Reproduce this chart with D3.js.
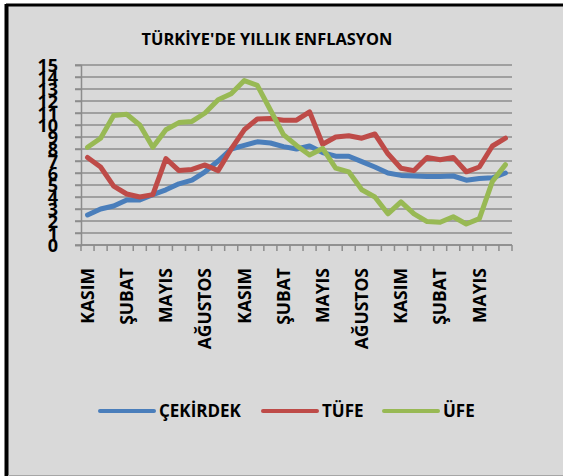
<!DOCTYPE html>
<html>
<head>
<meta charset="utf-8">
<script src="https://cdn.jsdelivr.net/npm/d3@7"></script>
<style>
  body { margin: 0; background: #fff; }
  text { font-family: "Open Sans", sans-serif; font-weight: bold; fill: #000; }
</style>
</head>
<body>
<svg id="chart" width="563" height="476"></svg>
<script>
// monthly labels, starting in November
var months = [
  "KASIM", "ARALIK", "OCAK", "ŞUBAT", "MART", "NİSAN", "MAYIS", "HAZİRAN", "TEMMUZ", "AĞUSTOS", "EYLÜL", "EKİM",
  "KASIM", "ARALIK", "OCAK", "ŞUBAT", "MART", "NİSAN", "MAYIS", "HAZİRAN", "TEMMUZ", "AĞUSTOS", "EYLÜL", "EKİM",
  "KASIM", "ARALIK", "OCAK", "ŞUBAT", "MART", "NİSAN", "MAYIS", "HAZİRAN", "TEMMUZ"
];

var cekirdek = [2.5, 3.0, 3.25, 3.75, 3.75, 4.2, 4.6, 5.1, 5.4, 6.1, 7.0, 8.0, 8.3, 8.6, 8.5, 8.2, 8.0,
  8.25, 7.7, 7.4, 7.4, 6.95, 6.5, 6.0, 5.8, 5.75, 5.7, 5.7, 5.75, 5.4, 5.55, 5.6, 6.0];
var tufe = [7.3, 6.5, 4.9, 4.25, 4.0, 4.2, 7.2, 6.2, 6.3, 6.67, 6.2, 8.0, 9.6, 10.5, 10.55, 10.4, 10.4,
  11.1, 8.4, 9.0, 9.1, 8.9, 9.25, 7.6, 6.4, 6.2, 7.3, 7.1, 7.3, 6.1, 6.5, 8.25, 8.9];
var ufe = [8.14, 8.9, 10.8, 10.9, 10.0, 8.14, 9.6, 10.2, 10.3, 11.0, 12.1, 12.6, 13.7, 13.3, 11.25, 9.2, 8.3,
  7.5, 8.05, 6.4, 6.1, 4.6, 4.0, 2.6, 3.6, 2.6, 1.95, 1.9, 2.35, 1.75, 2.2, 5.3, 6.7];

var seriesNames = ["ÇEKİRDEK", "TÜFE", "ÜFE"];
var seriesColors = ["#4a7ebb", "#be4b48", "#98b954"];
var yTicks = d3.range(0, 16);

var svg = d3.select("#chart");

// chart area background and frame
svg.append("rect")
  .attr("x", 6).attr("y", 5)
  .attr("width", 563).attr("height", 470)
  .attr("fill", "#d9d9d9");
svg.append("line")
  .attr("x1", 6).attr("x2", 563).attr("y1", 5).attr("y2", 5)
  .attr("stroke", "#000").attr("stroke-width", 3);
svg.append("line")
  .attr("x1", 6.5).attr("x2", 6.5).attr("y1", 4).attr("y2", 476)
  .attr("stroke", "#000").attr("stroke-width", 4);
svg.append("line")
  .attr("x1", 8).attr("x2", 563).attr("y1", 475.5).attr("y2", 475.5)
  .attr("stroke", "#a6a6a6").attr("stroke-width", 1);

svg.append("text")
  .attr("x", 267).attr("y", 45)
  .attr("text-anchor", "middle")
  .style("font-size", "16.4px")
  .text("TÜRKİYE'DE YILLIK ENFLASYON");

var x = d3.scaleBand()
  .domain(d3.range(months.length))
  .range([81, 512]);

var y = d3.scaleLinear()
  .domain([0, 15])
  .range([245, 65]);

// horizontal gridlines
svg.append("g")
  .selectAll("line")
  .data(yTicks)
  .enter()
  .append("line")
  .attr("x1", 75).attr("x2", 512)
  .attr("y1", function(d) { return y(d); })
  .attr("y2", function(d) { return y(d); })
  .attr("stroke", "#8c8c8c")
  .attr("stroke-width", 1.5);

// y axis (labels overlap, as in the original)
var yAxis = svg.append("g")
  .attr("transform", "translate(81,0)")
  .call(d3.axisLeft(y).tickValues(yTicks).tickSize(6).tickPadding(17));
yAxis.select(".domain").attr("stroke", "#8c8c8c").attr("stroke-width", 1.5);
yAxis.selectAll(".tick line").attr("stroke", "#8c8c8c").attr("stroke-width", 1.5);
yAxis.selectAll(".tick text")
  .style("font-size", "18px")
  .attr("dy", "0.36em");

// x axis: tick marks between categories
var xAxis = svg.append("g")
  .attr("transform", "translate(0,245)");
xAxis.append("line")
  .attr("x1", 81).attr("x2", 512)
  .attr("stroke", "#8c8c8c").attr("stroke-width", 1.5);
xAxis.selectAll("line.tick")
  .data(d3.range(months.length + 1))
  .enter()
  .append("line")
  .attr("class", "tick")
  .attr("x1", function(d) { return 81 + d * x.step(); })
  .attr("x2", function(d) { return 81 + d * x.step(); })
  .attr("y1", 0).attr("y2", 6)
  .attr("stroke", "#8c8c8c").attr("stroke-width", 1.5);

xAxis.selectAll("text")
  .data(d3.range(0, months.length, 3))
  .enter()
  .append("text")
  .attr("transform", function(d) {
    return "translate(" + (x(d) + x.bandwidth() / 2) + ",23) rotate(-90)";
  })
  .attr("text-anchor", "end")
  .attr("dy", "0.36em")
  .style("font-size", "17.5px")
  .text(function(d) { return months[d]; });

// series lines
var line = d3.line()
  .x(function(d, i) { return x(i) + x.bandwidth() / 2; })
  .y(function(d) { return y(d); });

svg.append("g")
  .selectAll("path")
  .data([cekirdek, tufe, ufe])
  .enter()
  .append("path")
  .attr("d", line)
  .attr("fill", "none")
  .attr("stroke", function(d, i) { return seriesColors[i]; })
  .attr("stroke-width", 5)
  .attr("stroke-linejoin", "round")
  .attr("stroke-linecap", "round");

// legend
var legendX = [100, 263, 384];
var legend = svg.append("g")
  .selectAll("g")
  .data(seriesNames)
  .enter()
  .append("g")
  .attr("transform", function(d, i) { return "translate(" + legendX[i] + ",411)"; });
legend.append("line")
  .attr("x1", 0).attr("x2", 54)
  .attr("stroke", function(d, i) { return seriesColors[i]; })
  .attr("stroke-width", 4)
  .attr("stroke-linecap", "round");
legend.append("text")
  .attr("x", 59)
  .attr("dy", "0.36em")
  .style("font-size", "17px")
  .text(function(d) { return d; });
</script>
</body>
</html>
